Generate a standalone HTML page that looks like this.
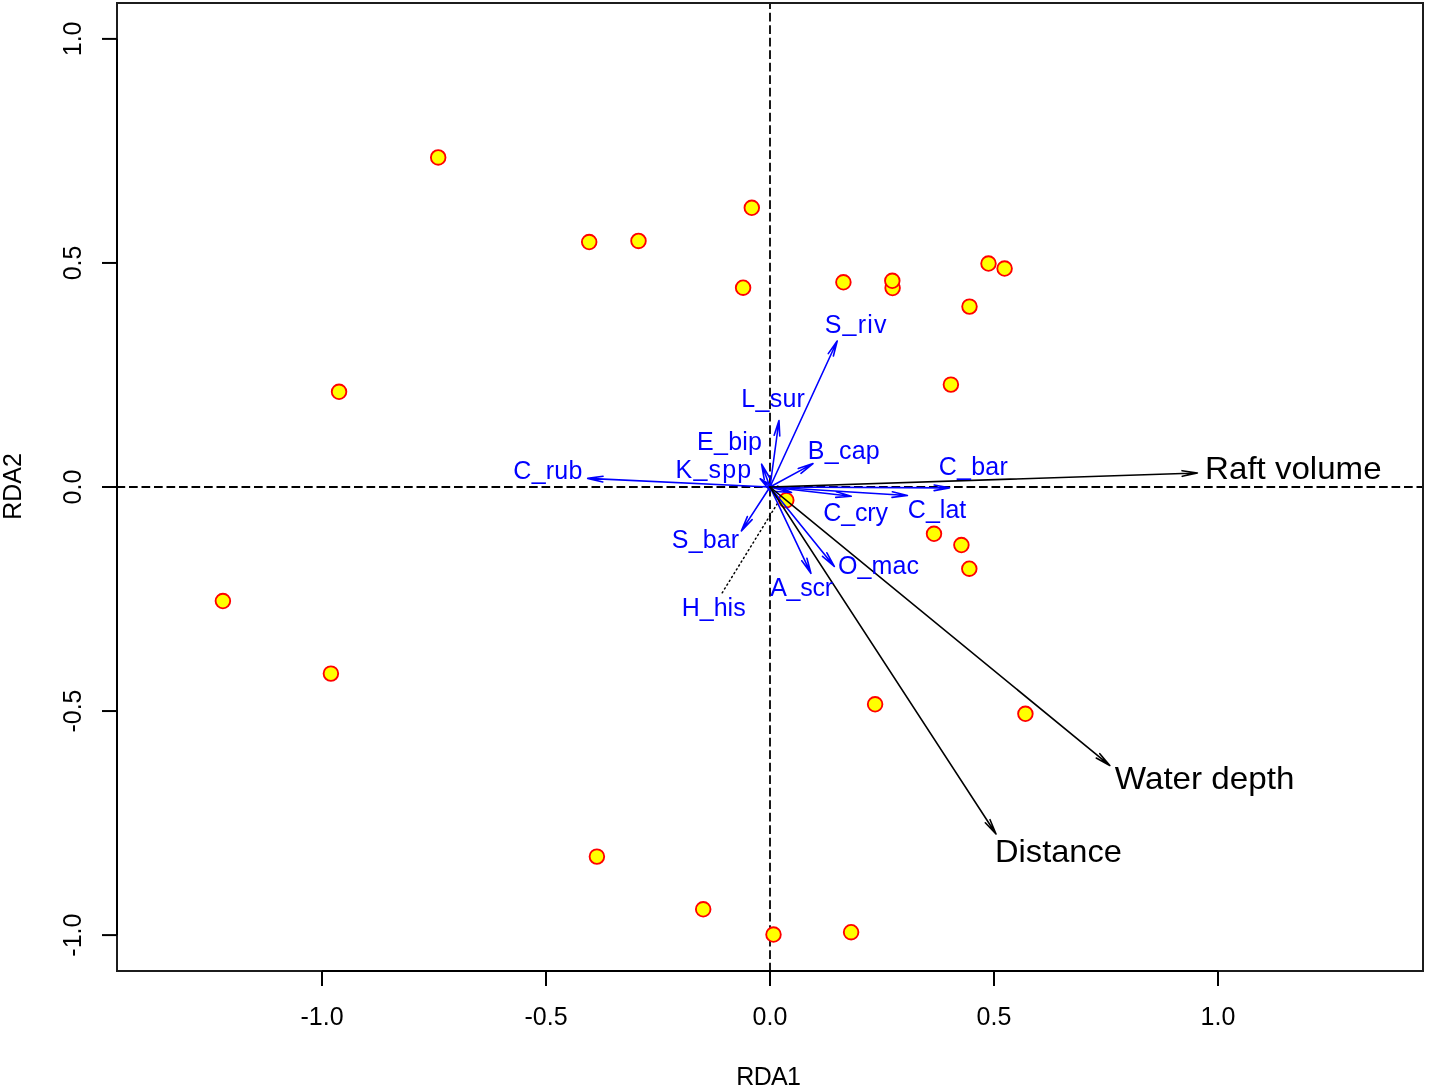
<!DOCTYPE html>
<html><head><meta charset="utf-8"><style>
html,body{margin:0;padding:0;background:#fff;}
svg{display:block;will-change:transform;}
text{font-family:"Liberation Sans",sans-serif;}
</style></head><body>
<svg width="1430" height="1092" viewBox="0 0 1430 1092">
<rect width="1430" height="1092" fill="#fff"/>

<g stroke="#000" stroke-width="1.8" fill="none">
<path d="M770 971.4V3" stroke-dasharray="8.7 3.8"/>
<path d="M116.5 487H1423" stroke-dasharray="8.7 3.8"/>
</g>
<g fill="#ff0" stroke="#f00" stroke-width="1.85">
<circle cx="438.2" cy="157.4" r="7.3"/>
<circle cx="751.8" cy="207.8" r="7.3"/>
<circle cx="589.2" cy="242.0" r="7.3"/>
<circle cx="638.5" cy="240.9" r="7.3"/>
<circle cx="743.1" cy="287.7" r="7.3"/>
<circle cx="843.4" cy="282.3" r="7.3"/>
<circle cx="892.6" cy="288.0" r="7.3"/>
<circle cx="892.3" cy="280.8" r="7.3"/>
<circle cx="988.5" cy="263.5" r="7.3"/>
<circle cx="1004.6" cy="268.5" r="7.3"/>
<circle cx="969.5" cy="306.6" r="7.3"/>
<circle cx="950.9" cy="384.6" r="7.3"/>
<circle cx="339.05" cy="391.8" r="7.3"/>
<circle cx="786.3" cy="500.2" r="7.3"/>
<circle cx="934.0" cy="533.8" r="7.3"/>
<circle cx="961.4" cy="545.0" r="7.3"/>
<circle cx="969.3" cy="568.7" r="7.3"/>
<circle cx="222.9" cy="601.0" r="7.3"/>
<circle cx="330.9" cy="673.6" r="7.3"/>
<circle cx="875.1" cy="704.3" r="7.3"/>
<circle cx="1025.4" cy="713.8" r="7.3"/>
<circle cx="596.9" cy="856.6" r="7.3"/>
<circle cx="703.2" cy="909.3" r="7.3"/>
<circle cx="773.5" cy="934.5" r="7.3"/>
<circle cx="851.1" cy="932.2" r="7.3"/>
</g>
<path d="M722.2 592.8L777.3 503.7" stroke="#000" stroke-width="1.5" stroke-linecap="round" stroke-dasharray="1.2 3.3"/>
<path d="M770.00 487.00L837.20 341.00M828.26 353.66L837.20 341.00L833.39 356.03" stroke="#00f" stroke-width="1.6" fill="none" stroke-linecap="round" stroke-linejoin="round"/>
<path d="M770.00 487.00L779.00 420.50M774.16 435.22L779.00 420.50L779.76 435.98" stroke="#00f" stroke-width="1.6" fill="none" stroke-linecap="round" stroke-linejoin="round"/>
<path d="M770.00 487.00L761.60 464.20M764.22 479.48L761.60 464.20L769.52 477.52" stroke="#00f" stroke-width="1.6" fill="none" stroke-linecap="round" stroke-linejoin="round"/>
<path d="M770.00 487.00L760.20 478.80M770.08 490.75L760.20 478.80L773.70 486.41" stroke="#00f" stroke-width="1.6" fill="none" stroke-linecap="round" stroke-linejoin="round"/>
<path d="M770.00 487.00L813.00 463.60M798.26 468.40L813.00 463.60L800.96 473.37" stroke="#00f" stroke-width="1.6" fill="none" stroke-linecap="round" stroke-linejoin="round"/>
<path d="M770.00 487.00L587.70 478.40M602.79 481.94L587.70 478.40L603.06 476.30" stroke="#00f" stroke-width="1.6" fill="none" stroke-linecap="round" stroke-linejoin="round"/>
<path d="M770.00 487.00L949.40 487.90M934.17 485.00L949.40 487.90L934.15 490.65" stroke="#00f" stroke-width="1.6" fill="none" stroke-linecap="round" stroke-linejoin="round"/>
<path d="M770.00 487.00L851.20 496.30M836.38 491.76L851.20 496.30L835.74 497.37" stroke="#00f" stroke-width="1.6" fill="none" stroke-linecap="round" stroke-linejoin="round"/>
<path d="M770.00 487.00L907.40 495.50M892.36 491.74L907.40 495.50L892.01 497.38" stroke="#00f" stroke-width="1.6" fill="none" stroke-linecap="round" stroke-linejoin="round"/>
<path d="M770.00 487.00L741.40 530.90M752.09 519.67L741.40 530.90L747.35 516.59" stroke="#00f" stroke-width="1.6" fill="none" stroke-linecap="round" stroke-linejoin="round"/>
<path d="M770.00 487.00L834.30 566.40M826.90 552.78L834.30 566.40L822.51 556.33" stroke="#00f" stroke-width="1.6" fill="none" stroke-linecap="round" stroke-linejoin="round"/>
<path d="M770.00 487.00L810.90 573.30M806.93 558.32L810.90 573.30L801.82 560.74" stroke="#00f" stroke-width="1.6" fill="none" stroke-linecap="round" stroke-linejoin="round"/>
<path d="M770.00 487.00L791.50 492.50M777.44 485.99L791.50 492.50L776.03 491.46" stroke="#00f" stroke-width="1.6" fill="none" stroke-linecap="round" stroke-linejoin="round"/>
<path d="M770.00 487.00L1197.40 473.00M1182.08 470.68L1197.40 473.00L1182.26 476.32" stroke="#000" stroke-width="1.6" fill="none" stroke-linecap="round" stroke-linejoin="round"/>
<path d="M770.00 487.00L1109.80 765.50M1099.80 753.65L1109.80 765.50L1096.22 758.02" stroke="#000" stroke-width="1.6" fill="none" stroke-linecap="round" stroke-linejoin="round"/>
<path d="M770.00 487.00L996.00 834.00M990.05 819.69L996.00 834.00L985.32 822.77" stroke="#000" stroke-width="1.6" fill="none" stroke-linecap="round" stroke-linejoin="round"/>
<text id="T0" x="824.67" y="333" text-anchor="start" font-size="25" fill="#00f" textLength="61.94" lengthAdjust="spacing">S<tspan dy="-1.8">_</tspan><tspan dy="1.8">riv</tspan></text>
<text id="T1" x="741.37" y="407" text-anchor="start" font-size="25" fill="#00f" textLength="63.49" lengthAdjust="spacing">L_sur</text>
<text id="T2" x="697.12" y="450" text-anchor="start" font-size="25" fill="#00f" textLength="64.82" lengthAdjust="spacing">E_bip</text>
<text id="T3" x="675.62" y="478" text-anchor="start" font-size="25" fill="#00f" textLength="75.58" lengthAdjust="spacing">K<tspan dy="-1.8">_</tspan><tspan dy="1.8">spp</tspan></text>
<text id="T4" x="807.80" y="459" text-anchor="start" font-size="25" fill="#00f" textLength="71.91" lengthAdjust="spacing">B_cap</text>
<text id="T5" x="513.35" y="479" text-anchor="start" font-size="25" fill="#00f" textLength="68.96" lengthAdjust="spacing">C_rub</text>
<text id="T6" x="938.76" y="475" text-anchor="start" font-size="25" fill="#00f" textLength="69.01" lengthAdjust="spacing">C_bar</text>
<text id="T7" x="823.30" y="521" text-anchor="start" font-size="25" fill="#00f" textLength="64.74" lengthAdjust="spacing">C_cry</text>
<text id="T8" x="907.85" y="518" text-anchor="start" font-size="25" fill="#00f" textLength="58.40" lengthAdjust="spacing">C_lat</text>
<text id="T9" x="671.83" y="548" text-anchor="start" font-size="25" fill="#00f" textLength="67.27" lengthAdjust="spacing">S_bar</text>
<text id="T10" x="837.88" y="574" text-anchor="start" font-size="25" fill="#00f" textLength="81.15" lengthAdjust="spacing">O_mac</text>
<text id="T11" x="770.16" y="596" text-anchor="start" font-size="25" fill="#00f" textLength="62.80" lengthAdjust="spacing">A_scr</text>
<text id="T12" x="681.68" y="616" text-anchor="start" font-size="25" fill="#00f" textLength="64.03" lengthAdjust="spacing">H_his</text>
<text id="T13" x="1205.13" y="478.9" text-anchor="start" font-size="31.5" fill="#000" textLength="176.43" lengthAdjust="spacingAndGlyphs">Raft volume</text>
<text id="T14" x="1114.85" y="788.6" text-anchor="start" font-size="31.5" fill="#000" textLength="179.54" lengthAdjust="spacingAndGlyphs">Water depth</text>
<text id="T15" x="995.06" y="861.8" text-anchor="start" font-size="31.5" fill="#000" textLength="126.84" lengthAdjust="spacingAndGlyphs">Distance</text>
<text id="T16" x="322.00" y="1025" text-anchor="middle" font-size="25" fill="#000">-1.0</text>
<text id="T17" x="546.00" y="1025" text-anchor="middle" font-size="25" fill="#000">-0.5</text>
<text id="T18" x="770.00" y="1025" text-anchor="middle" font-size="25" fill="#000">0.0</text>
<text id="T19" x="994.00" y="1025" text-anchor="middle" font-size="25" fill="#000">0.5</text>
<text id="T20" x="1218.00" y="1025" text-anchor="middle" font-size="25" fill="#000">1.0</text>
<text id="T21" x="0" y="0" transform="translate(81.1 38.9) rotate(-90)" text-anchor="middle" font-size="25" fill="#000">1.0</text>
<text id="T22" x="0" y="0" transform="translate(81.1 262.95) rotate(-90)" text-anchor="middle" font-size="25" fill="#000">0.5</text>
<text id="T23" x="0" y="0" transform="translate(81.1 487) rotate(-90)" text-anchor="middle" font-size="25" fill="#000">0.0</text>
<text id="T24" x="0" y="0" transform="translate(81.1 711.05) rotate(-90)" text-anchor="middle" font-size="25" fill="#000">-0.5</text>
<text id="T25" x="0" y="0" transform="translate(81.1 935.1) rotate(-90)" text-anchor="middle" font-size="25" fill="#000">-1.0</text>
<text id="T26" x="768.57" y="1084.8" text-anchor="middle" font-size="25" fill="#000" textLength="64.44" lengthAdjust="spacing">RDA1</text>
<text id="T27" x="0" y="0" transform="translate(20.8 486.5) rotate(-90)" text-anchor="middle" font-size="25" fill="#000">RDA2</text>
<g stroke="#000" stroke-width="2" fill="none">
<rect x="117" y="3" width="1306" height="968" stroke="#1c1c1c"/>
<path d="M322 971H1218M117 38.9V935.1"/>
<path d="M322 971V986"/>
<path d="M546 971V986"/>
<path d="M770 971V986"/>
<path d="M994 971V986"/>
<path d="M1218 971V986"/>
<path d="M117 38.9H102"/>
<path d="M117 262.95H102"/>
<path d="M117 487H102"/>
<path d="M117 711.05H102"/>
<path d="M117 935.1H102"/>
</g>
</svg></body></html>
